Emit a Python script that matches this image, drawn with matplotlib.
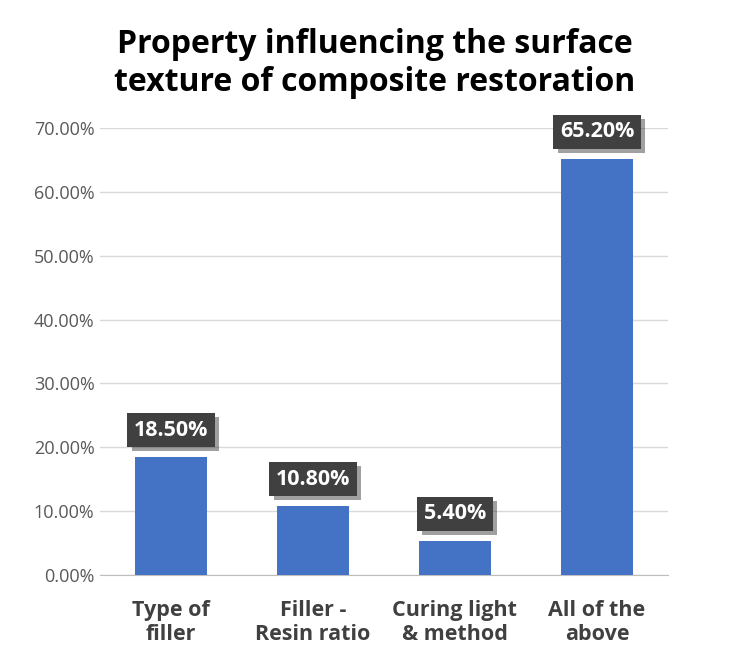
import matplotlib.pyplot as plt
import matplotlib.patheffects as pe

categories = ["Type of\nfiller", "Filler -\nResin ratio", "Curing light\n& method", "All of the\nabove"]
values = [18.5, 10.8, 5.4, 65.2]
yticks = [0, 10, 20, 30, 40, 50, 60, 70]

fig = plt.figure(figsize=(7.5, 6.66), dpi=100)
ax = fig.add_axes([100/750, 1-575/666, 568/750, (575-128)/666])

x = range(len(categories))
ax.bar(x, values, width=0.507, color="#4472C4", zorder=3)
ax.set_xlim(-0.5, len(categories) - 0.5)
ax.set_ylim(0, 70)
ax.set_yticks(yticks)
ax.set_yticklabels(["%.2f%%" % v for v in yticks], fontsize=13, color="#595959", family="Open Sans")
ax.set_xticks(list(x))
ax.set_xticklabels(categories, fontsize=15.5, fontweight="bold", color="#404040", family="Open Sans")
ax.tick_params(axis="y", length=0, pad=4)
ax.tick_params(axis="x", length=0, pad=18)
ax.grid(axis="y", color="#d9d9d9", lw=1, zorder=0)
for s in ["top", "right", "left"]:
    ax.spines[s].set_visible(False)
ax.spines["bottom"].set_color("#bfbfbf")

for i, v in enumerate(values):
    ax.text(i, v + 4.2, "%.2f%%" % v, ha="center", va="center", fontsize=15.5,
            fontweight="bold", color="white", family="Open Sans", zorder=5,
            bbox=dict(boxstyle="square,pad=0.3", fc="#404040", ec="none",
                      path_effects=[pe.withSimplePatchShadow(offset=(3, -3), alpha=0.4)]))

fig.text(0.5, 0.905, "Property influencing the surface\ntexture of composite restoration",
         ha="center", va="center", fontsize=23, fontweight="bold", color="black",
         family="Open Sans", linespacing=1.2)

fig.savefig("out.png", dpi=100)
